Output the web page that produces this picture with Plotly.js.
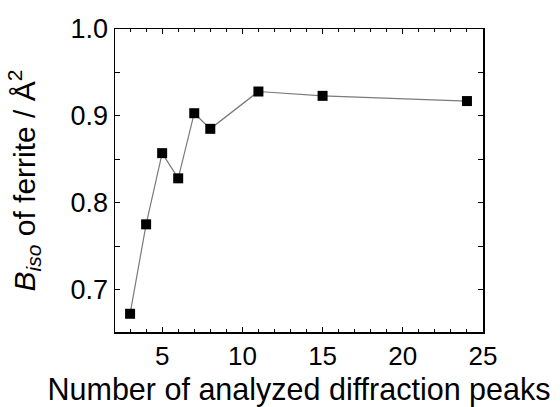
<!DOCTYPE html>
<html>
<head>
<meta charset="utf-8">
<script src="https://cdn.plot.ly/plotly-3.0.1.min.js"></script>
<style>html,body{margin:0;padding:0;background:#fff;}#chart{width:560px;height:407px;}</style>
</head>
<body>
<div id="chart"></div>
<script>
const peaks = [3, 4, 5, 6, 7, 8, 11, 15, 24];
const biso = [0.672, 0.775, 0.857, 0.828, 0.903, 0.885, 0.928, 0.923, 0.917];
const xTickVals = [5, 10, 15, 20, 25];
const yTickVals = [0.7, 0.8, 0.9, 1.0];
const yTickText = ['0.7', '0.8', '0.9', '1.0'];

const font = 'Liberation Sans, Arial, sans-serif';
const trace = {
  x: peaks, y: biso, type: 'scatter', mode: 'lines+markers',
  line: {color: '#7a7a7a', width: 1.2},
  marker: {symbol: 'square', size: 10, color: '#000'}
};
const layout = {
  width: 560, height: 407,
  margin: {l: 115, r: 77, t: 29, b: 75},
  paper_bgcolor: '#fff', plot_bgcolor: '#fff',
  showlegend: false,
  font: {family: font, color: '#000'},
  xaxis: {
    range: [2.06, 25], tickvals: xTickVals, ticks: 'inside', ticklen: 5, tickwidth: 1.2,
    tickcolor: '#000', showline: true, linecolor: '#000', linewidth: 1.5, mirror: 'allticks',
    showgrid: false, zeroline: false, tickfont: {size: 26, family: font},
    minor: {dtick: 1, ticks: 'inside', ticklen: 3, tickcolor: '#000', tickwidth: 1, showgrid: false},
    title: {text: 'Number of analyzed diffraction peaks', font: {size: 30.5, family: font}, standoff: 14}
  },
  yaxis: {
    range: [0.651, 1.0], tickvals: yTickVals, ticktext: yTickText, ticks: 'inside', ticklen: 5, tickwidth: 1.2,
    tickcolor: '#000', showline: true, linecolor: '#000', linewidth: 1.5, mirror: 'allticks',
    showgrid: false, zeroline: false, tickfont: {size: 27, family: font},
    minor: {dtick: 0.05, tick0: 0.7, ticks: 'inside', ticklen: 5, tickcolor: '#000', tickwidth: 1, showgrid: false},
    title: {text: '<i>B</i><sub><i>iso</i></sub> of ferrite / Å<sup>2</sup>', font: {size: 30, family: font}, standoff: 26}
  }
};
Plotly.newPlot('chart', [trace], layout, {displayModeBar: false, staticPlot: true});
</script>
</body>
</html>
